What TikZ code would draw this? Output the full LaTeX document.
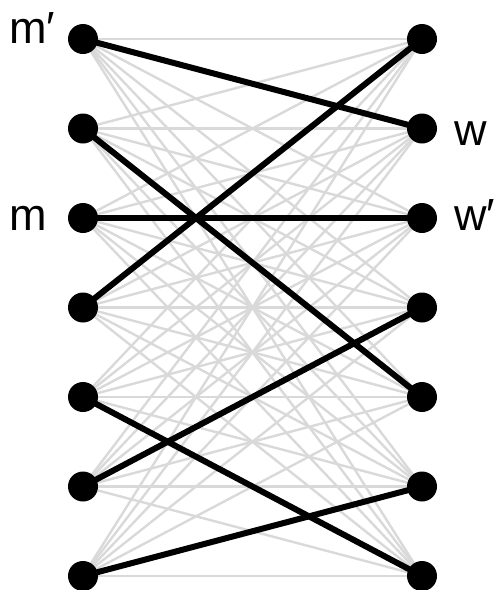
\documentclass[tikz,border=0pt]{standalone}
\usepackage{fontspec}
\setmainfont{Liberation Sans}
\begin{document}
\begin{tikzpicture}[x=1pt,y=-1pt,
  vtx/.style={circle,fill=black,inner sep=0pt,minimum size=30pt},
  grey/.style={draw={rgb,255:red,217;green,217;blue,217},line width=2.4pt},
  match/.style={draw=black,line width=6pt},
  lab/.style={anchor=base west,inner sep=0pt,font=\fontsize{45}{48}\selectfont}]
\useasboundingbox (0,0) rectangle (496,590);
\foreach \i/\y in {1/39,2/128.5,3/218,4/307.5,5/397,6/486.5,7/576}{
  \coordinate (L\i) at (83,\y);
  \coordinate (R\i) at (422,\y);
}
\foreach \i in {1,...,7}{
  \foreach \j in {1,...,7}{
    \draw[grey] (L\i) -- (R\j);
  }
}
\foreach \a/\b in {1/2,2/5,3/3,4/1,5/7,6/4,7/6}{
  \draw[match] (L\a) -- (R\b);
}
\foreach \i in {1,...,7}{
  \node[vtx] (l\i) at (L\i) {};
  \node[vtx] (r\i) at (R\i) {};
}
\node[lab] (mp) at (9,43.5) {m′};
\node[lab] (m) at (9,230) {m};
\node[lab] (w) at (454,145) {w};
\node[lab] (wp) at (454,230) {w′};
\end{tikzpicture}
\end{document}
